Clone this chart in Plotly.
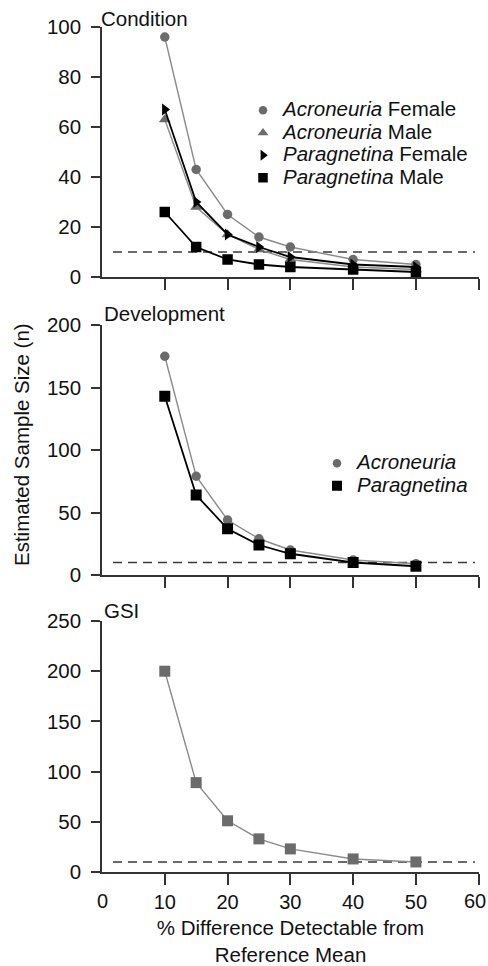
import plotly.graph_objects as go

# ---------------- data ----------------
pct_diff = [10, 15, 20, 25, 30, 40, 50]

cond_acro_female = [96, 43, 25, 16, 12, 7, 5]
cond_acro_male = [63, 28, 17, 11, 7, 4, 3]
cond_para_female = [67, 30, 17, 12, 8, 5, 4]
cond_para_male = [26, 12, 7, 5, 4, 3, 2]

dev_acro = [175, 79, 44, 29, 20, 12, 9]
dev_para = [143, 64, 37, 24, 17, 10, 7]

gsi = [200, 89, 51, 33, 23, 13, 10]

ref_n = 10  # dashed reference sample size

x_ticks = [10, 20, 30, 40, 50, 60]
# the end labels (0 and 60) are drawn as annotations so they stay inside the page
x_tick_labels = ["10", "20", "30", "40", "50", ""]
x_end_labels = [(0, "0"), (60, "60")]
y1_ticks = [0, 20, 40, 60, 80, 100]
y2_ticks = [0, 50, 100, 150, 200]
y3_ticks = [0, 50, 100, 150, 200, 250]

panel_titles = ["Condition", "Development", "GSI"]
y_title = "Estimated Sample Size (n)"
x_title = "% Difference Detectable from<br>Reference Mean"

# ---------------- style ----------------
FONT = "Liberation Sans, Arial, sans-serif"
FS = 20.5
XFS = 20
GRAY_M = "#6b6b6b"
GRAY_L = "#8a8a8a"
BLACK = "#000000"
AXC = "#333333"

W, H = 488, 966
# plot area in pixels: x 102..479, y 27..872
PL, PR, PT, PB = 102, 479, 27, 872
ML, MR, MT, MB = PL, W - PR, PT, H - PB
PW = PR - PL
PH = PB - PT


def dom(top_px, bot_px):
    return [(PB - bot_px) / PH, (PB - top_px) / PH]


def px_x(xp):
    return (xp - PL) / PW


def px_y(yp):
    return (PB - yp) / PH


fig = go.Figure()


def series(x, y, name, sym, mcol, lcol, msize, lw, xa, ya, legend=None):
    fig.add_trace(go.Scatter(
        x=x, y=y, mode="lines+markers", name=name, showlegend=False,
        line=dict(color=lcol, width=lw),
        marker=dict(symbol=sym, color=mcol, size=msize),
        xaxis=xa, yaxis=ya, cliponaxis=False))
    if legend:
        fig.add_trace(go.Scatter(
            x=[None], y=[None], mode="markers",
            name='<span style="font-size:%spx">%s</span>' % (FS, name),
            marker=dict(symbol=sym, color=mcol, size=msize - 1),
            xaxis=xa, yaxis=ya, legend=legend, showlegend=True))


series(pct_diff, cond_acro_female, "<i>Acroneuria</i> Female", "circle", GRAY_M, GRAY_L, 9.5, 1.4, "x", "y", "legend")
series(pct_diff, cond_acro_male, "<i>Acroneuria</i> Male", "triangle-up", GRAY_M, GRAY_L, 10.5, 1.4, "x", "y", "legend")
series(pct_diff, cond_para_female, "<i>Paragnetina</i> Female", "triangle-right", BLACK, BLACK, 10.5, 1.8, "x", "y", "legend")
series(pct_diff, cond_para_male, "<i>Paragnetina</i> Male", "square", BLACK, BLACK, 10.5, 1.8, "x", "y", "legend")

series(pct_diff, dev_acro, "<i>Acroneuria</i>", "circle", GRAY_M, GRAY_L, 9.5, 1.4, "x2", "y2", "legend2")
series(pct_diff, dev_para, "<i>Paragnetina</i>", "square", BLACK, BLACK, 11, 1.8, "x2", "y2", "legend2")

series(pct_diff, gsi, "GSI", "square", GRAY_M, GRAY_L, 11, 1.4, "x3", "y3")

# reference dashed lines
for xr, yr in [("x", "y"), ("x2", "y2"), ("x3", "y3")]:
    fig.add_shape(type="line", xref=xr, yref=yr, x0=1.75, x1=59.4, y0=ref_n, y1=ref_n,
                  line=dict(color="#3a3a3a", width=1.6, dash="9px,6px"), layer="below")

xcommon = dict(range=[0, 60.05], tickvals=x_ticks, ticktext=x_tick_labels, showline=True,
               linecolor=AXC, linewidth=1.5,
               ticks="outside", ticklen=11, tickwidth=1.5, tickcolor=AXC, showgrid=False,
               zeroline=False, domain=[0, 1], tickfont=dict(size=XFS, color="#111"),
               automargin=False, ticklabeloverflow="allow")
ycommon = dict(showline=True, linecolor=AXC, linewidth=1.5, ticks="outside", ticklen=9,
               tickwidth=1.5, tickcolor=AXC, showgrid=False, zeroline=False,
               tickfont=dict(size=FS, color="#111"), ticklabelstandoff=6, automargin=False)

fig.update_layout(
    width=W, height=H,
    margin=dict(l=ML, r=MR, t=MT, b=MB),
    paper_bgcolor="white", plot_bgcolor="white",
    font=dict(family=FONT, size=FS, color="#111"),
    xaxis=dict(xcommon, anchor="y", showticklabels=False),
    xaxis2=dict(xcommon, anchor="y2", showticklabels=False),
    xaxis3=dict(xcommon, anchor="y3", showticklabels=True,
                title=dict(text=x_title, font=dict(size=FS), standoff=12)),
    yaxis=dict(ycommon, range=[0, 100], tickvals=y1_ticks, domain=dom(27, 277), anchor="x"),
    yaxis2=dict(ycommon, range=[0, 200], tickvals=y2_ticks, domain=dom(325, 575), anchor="x2"),
    yaxis3=dict(ycommon, range=[0, 250], tickvals=y3_ticks, domain=dom(621, 872), anchor="x3"),
    legend=dict(x=px_x(243), xanchor="left", y=px_y(94), yanchor="top",
                font=dict(size=15), bgcolor="rgba(0,0,0,0)", itemwidth=30, tracegroupgap=0),
    legend2=dict(x=px_x(317), xanchor="left", y=px_y(447), yanchor="top",
                 font=dict(size=15), bgcolor="rgba(0,0,0,0)", itemwidth=30, tracegroupgap=0),
    showlegend=True,
)

# panel titles
for t, ax, xs, ys in zip(panel_titles, ["", "2", "3"], [-3, 0, 0], [-5, -2, -3]):
    fig.add_annotation(text=t, xref="x%s domain" % ax, yref="y%s domain" % ax, x=0, y=1,
                       xanchor="left", yanchor="bottom", xshift=xs, yshift=ys,
                       showarrow=False, font=dict(size=FS, color="#111"))

# end labels of the x axis
for xv, lab in x_end_labels:
    if xv == 0:
        fig.add_annotation(text=lab, xref="x3", yref="y3 domain", x=xv, y=0, yanchor="top",
                           yshift=-16, showarrow=False, font=dict(size=XFS, color="#111"))
    else:
        fig.add_annotation(text=lab, xref="x3", yref="y3 domain", x=xv, y=0, yanchor="top",
                           xanchor="right", xshift=9, yshift=-16, showarrow=False,
                           font=dict(size=XFS, color="#111"))

# shared y axis title
fig.add_annotation(text=y_title, xref="paper", yref="paper", x=px_x(22), xanchor="center",
                   y=px_y(445), yanchor="middle", textangle=-90, showarrow=False,
                   font=dict(size=FS, color="#111"))

# remove the default page margin so the figure fills the window exactly
fig.write_html(
    "out.html",
    config={"displayModeBar": False},
    post_script="document.body.style.margin='0';document.body.style.overflow='hidden';"
                "document.documentElement.style.overflow='hidden';",
)
